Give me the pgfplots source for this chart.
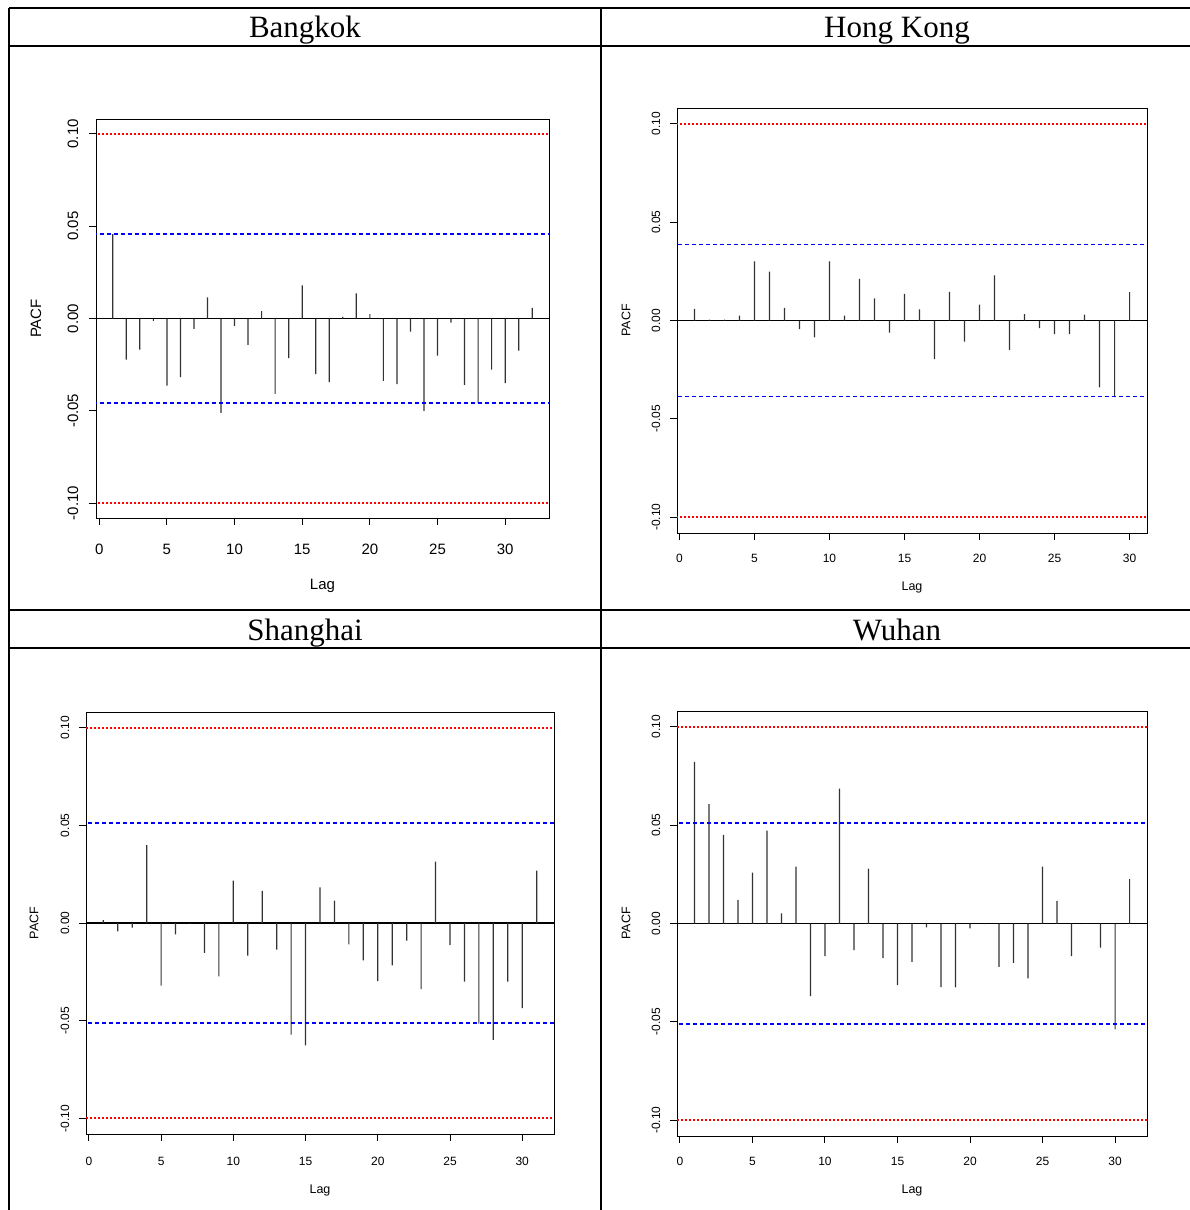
\documentclass[border=0pt]{standalone}
\usepackage{pgfplots}
\pgfplotsset{compat=1.18}
\usepackage{fontspec}
\setmainfont{Liberation Sans}
\newfontfamily\titlefont{Liberation Serif}
\definecolor{rlred}{RGB}{255,0,0}
\definecolor{rlblue}{RGB}{0,0,255}

\pgfplotsset{
 pacf/.style={
  scale only axis,
  tick align=outside,
  xtick pos=bottom, ytick pos=left,
  major tick length=7pt,
  xtick={0,5,10,15,20,25,30},
  xticklabels={0,5,10,15,20,25,30},
  ytick={-0.1,-0.05,0,0.05,0.1},
  yticklabels={-0.10,-0.05,0.00,0.05,0.10},
  ymin=-0.108, ymax=0.108,
  axis line style={line width=1pt},
  tick style={black, line width=1pt},
  yticklabel style={rotate=90, anchor=center},
  xticklabel style={anchor=center},
  xlabel={Lag}, ylabel={PACF},
  clip=true,
 },
 zero/.style={draw=black, line width=1.2pt, forget plot},
 ci/.style={draw=rlblue, color=rlblue, line width=1.6pt, dash pattern=on 4pt off 3pt, forget plot},
 lim/.style={draw=rlred, color=rlred, line width=1.8pt, dash pattern=on 2pt off 2pt, forget plot},
 bars/.style={ybar, bar width=1.2pt, fill=black!80, draw=none, forget plot},
}

\begin{document}
\begin{tikzpicture}
\path[use as bounding box] (0pt,0pt) rectangle (1190pt,-1210pt);
% table frame
\draw[line width=2.5pt] (9pt,-8pt) -- (1190pt,-8pt);
\draw[line width=2.5pt] (9pt,-46pt) -- (1190pt,-46pt);
\draw[line width=2.5pt] (9pt,-610pt) -- (1190pt,-610pt);
\draw[line width=2.5pt] (9pt,-648pt) -- (1190pt,-648pt);
\draw[line width=2.5pt] (9pt,-8pt) -- (9pt,-1210pt);
\draw[line width=2.5pt] (601pt,-8pt) -- (601pt,-1210pt);
% titles
\node[anchor=base, inner sep=0pt] at (305pt,-37pt) {\titlefont\fontsize{31}{36}\selectfont Bangkok};
\node[anchor=base, inner sep=0pt] at (897pt,-37pt) {\titlefont\fontsize{31}{36}\selectfont Hong Kong};
\node[anchor=base, inner sep=0pt] at (305pt,-640pt) {\titlefont\fontsize{31}{36}\selectfont Shanghai};
\node[anchor=base, inner sep=0pt] at (897pt,-640pt) {\titlefont\fontsize{31}{36}\selectfont Wuhan};

% ---------------- Bangkok
\begin{axis}[pacf,
  at={(96pt,-518pt)}, anchor=south west,
  width=453pt, height=399pt,
  xmin=-0.24, xmax=33.24,
  ticklabel style={font=\fontsize{15}{18}\selectfont},
  label style={font=\fontsize{15}{18}\selectfont},
  yticklabel shift=16pt, xticklabel shift=24pt,
  x label style={at={(axis description cs:0.5,-0.17)}, anchor=center},
  y label style={at={(axis description cs:-0.1325,0.5)}, anchor=center},
]
\addplot[zero] coordinates {(-1,0) (40,0)};
\addplot[bars] coordinates {
(1,0.0457) (2,-0.0223) (3,-0.0168) (4,-0.0013) (5,-0.0364) (6,-0.0317)
(7,-0.0056) (8,0.0114) (9,-0.0511) (10,-0.0040) (11,-0.0143) (12,0.0040)
(13,-0.0408) (14,-0.0214) (15,0.0179) (16,-0.0301) (17,-0.0344) (18,0.0009)
(19,0.0136) (20,0.0024) (21,-0.0337) (22,-0.0355) (23,-0.0071) (24,-0.0500)
(25,-0.0201) (26,-0.0022) (27,-0.0359) (28,-0.0457) (29,-0.0277) (30,-0.0350)
(31,-0.0174) (32,0.0058)};
\addplot[lim] coordinates {(-1,0.1) (40,0.1)};
\addplot[lim] coordinates {(-1,-0.1) (40,-0.1)};
\addplot[ci] coordinates {(-1,0.0459) (40,0.0459)};
\addplot[ci] coordinates {(-1,-0.0459) (40,-0.0459)};
\end{axis}

% ---------------- Hong Kong
\begin{axis}[pacf,
  at={(677pt,-533pt)}, anchor=south west,
  width=470pt, height=425pt,
  xmin=-0.16, xmax=31.16,
  ticklabel style={font=\fontsize{12}{14}\selectfont},
  label style={font=\fontsize{12.5}{15}\selectfont},
  yticklabel shift=14pt, xticklabel shift=18pt,
  x label style={at={(axis description cs:0.5,-0.1293)}, anchor=center},
  y label style={at={(axis description cs:-0.1084,0.5)}, anchor=center},
]
\addplot[zero] coordinates {(-1,0) (40,0)};
\addplot[bars] coordinates {
(1,0.0059) (2,0.0005) (3,0.0005) (4,0.0025) (5,0.0300) (6,0.0249)
(7,0.0064) (8,-0.0044) (9,-0.0086) (10,0.0300) (11,0.0025) (12,0.0212)
(13,0.0112) (14,-0.0061) (15,0.0135) (16,0.0056) (17,-0.0196) (18,0.0146)
(19,-0.0107) (20,0.0081) (21,0.0230) (22,-0.0149) (23,0.0032) (24,-0.0039)
(25,-0.0069) (26,-0.0069) (27,0.0030) (28,-0.0340) (29,-0.0389) (30,0.0144)};
\addplot[lim] coordinates {(-1,0.1) (40,0.1)};
\addplot[lim] coordinates {(-1,-0.1) (40,-0.1)};
\addplot[ci] coordinates {(-1,0.0387) (40,0.0387)};
\addplot[ci] coordinates {(-1,-0.0387) (40,-0.0387)};
\end{axis}

% ---------------- Shanghai
\begin{axis}[pacf,
  at={(86pt,-1134pt)}, anchor=south west,
  width=468pt, height=422pt,
  xmin=-0.2, xmax=32.2,
  ticklabel style={font=\fontsize{12}{14}\selectfont},
  label style={font=\fontsize{12.5}{15}\selectfont},
  yticklabel shift=14pt, xticklabel shift=20pt,
  x label style={at={(axis description cs:0.5,-0.135)}, anchor=center},
  y label style={at={(axis description cs:-0.111,0.5)}, anchor=center},
]
\addplot[zero] coordinates {(-1,0) (40,0)};
\addplot[bars] coordinates {
(1,0.0015) (2,-0.0043) (3,-0.0024) (4,0.0399) (5,-0.0321) (6,-0.0058)
(7,-0.0003) (8,-0.0153) (9,-0.0273) (10,0.0217) (11,-0.0167) (12,0.0165)
(13,-0.0136) (14,-0.0571) (15,-0.0626) (16,0.0182) (17,0.0114) (18,-0.0109)
(19,-0.0191) (20,-0.0298) (21,-0.0217) (22,-0.0090) (23,-0.0338) (24,0.0314)
(25,-0.0113) (26,-0.0300) (27,-0.0515) (28,-0.0598) (29,-0.0300) (30,-0.0435)
(31,0.0268)};
\addplot[lim] coordinates {(-1,0.1) (40,0.1)};
\addplot[lim] coordinates {(-1,-0.1) (40,-0.1)};
\addplot[ci] coordinates {(-1,0.0513) (40,0.0513)};
\addplot[ci] coordinates {(-1,-0.0513) (40,-0.0513)};
\end{axis}

% ---------------- Wuhan
\begin{axis}[pacf,
  at={(677pt,-1136pt)}, anchor=south west,
  width=470pt, height=425pt,
  xmin=-0.2, xmax=32.2,
  ticklabel style={font=\fontsize{12}{14}\selectfont},
  label style={font=\fontsize{12.5}{15}\selectfont},
  yticklabel shift=14pt, xticklabel shift=18pt,
  x label style={at={(axis description cs:0.5,-0.129)}, anchor=center},
  y label style={at={(axis description cs:-0.1084,0.5)}, anchor=center},
]
\addplot[zero] coordinates {(-1,0) (40,0)};
\addplot[bars] coordinates {
(1,0.0821) (2,0.0607) (3,0.0450) (4,0.0120) (5,0.0259) (6,0.0472)
(7,0.0051) (8,0.0289) (9,-0.0369) (10,-0.0166) (11,0.0685) (12,-0.0135)
(13,0.0279) (14,-0.0176) (15,-0.0313) (16,-0.0195) (17,-0.0019) (18,-0.0323)
(19,-0.0325) (20,-0.0025) (21,-0.0003) (22,-0.0220) (23,-0.0200) (24,-0.0279)
(25,0.0289) (26,0.0115) (27,-0.0166) (28,-0.0002) (29,-0.0122) (30,-0.0538)
(31,0.0225)};
\addplot[lim] coordinates {(-1,0.1) (40,0.1)};
\addplot[lim] coordinates {(-1,-0.1) (40,-0.1)};
\addplot[ci] coordinates {(-1,0.0510) (40,0.0510)};
\addplot[ci] coordinates {(-1,-0.0510) (40,-0.0510)};
\end{axis}
\end{tikzpicture}
\end{document}
